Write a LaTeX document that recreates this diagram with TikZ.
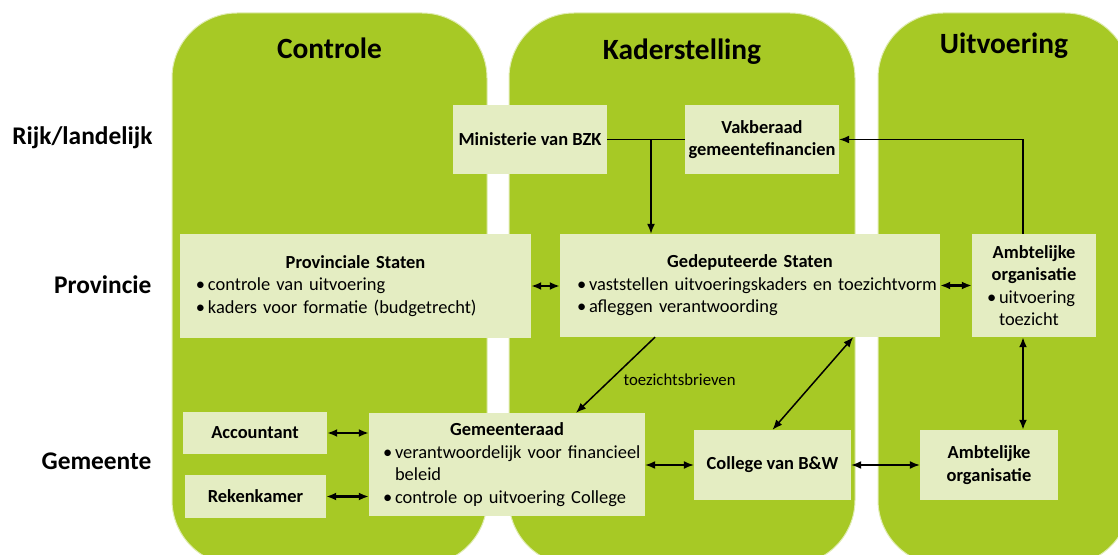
\documentclass[tikz,border=0pt]{standalone}
\usepackage{fontspec}
\setmainfont{Carlito}
\usetikzlibrary{arrows.meta}

\definecolor{kolomgroen}{RGB}{167,201,37}
\definecolor{vakgroen}{RGB}{228,237,194}
\newcommand{\bul}[2][16bp]{\par\leftskip=#1\relax\hangindent=12bp\hangafter=1\noindent\makebox[12bp][l]{\textbullet}#2}
\newcommand{\kopje}[1]{{\centering\textbf{#1}\par}}

\begin{document}
\begin{tikzpicture}[x=1bp, y=-1bp,
  kolom/.style={fill=kolomgroen, draw=white!65!kolomgroen, line width=1bp, rounded corners=65bp},
  kop/.style={anchor=base, font=\fontsize{29.5}{34}\selectfont\bfseries},
  laag/.style={anchor=base east, font=\fontsize{25.5}{30}\selectfont\bfseries},
  blok/.style={fill=vakgroen, inner sep=0pt, align=center, font=\fontsize{18.5}{22.5}\selectfont\bfseries},
  lijst/.style={fill=vakgroen, inner sep=0pt, align=left, font=\fontsize{18.5}{22.5}\selectfont},
  pijl/.style={line width=1.5bp, -{Latex[length=10bp,width=8bp]}},
  dpijl/.style={line width=1.5bp, {Latex[length=10bp,width=8bp]}-{Latex[length=10bp,width=8bp]}},
  dik/.style={line width=2.3bp}]
\useasboundingbox (0,0) rectangle (1118,555);
\clip (0,0) rectangle (1118,555);

% kolommen
\path[kolom] (172,13) rectangle (487,565);
\path[kolom] (509,13) rectangle (855,565);
\path[kolom] (878,13) rectangle (1130,565);
\node[kop] (controle) at (329.5,59) {Controle};
\node[kop] (kader) at (682,60) {Kaderstelling};
\node[kop] (uitvoering) at (1004,54) {Uitvoering};

% lagen
\node[laag] (rijk) at (156,145) {Rijk/landelijk};
\node[laag] (provincie) at (155,294) {Provincie};
\node[laag] (gemeente) at (155,469) {Gemeente};

% rijk
\node[blok, minimum width=154bp, minimum height=69bp] (bzk) at (530,139.5) {Ministerie van BZK};
\node[blok, minimum width=154bp, minimum height=69bp] (vak) at (762,139.5) {Vakberaad\\gemeentefinancien};

% provincie
\node[lijst, text width=351bp, minimum height=104bp] (ps) at (355.5,286) {%
  \kopje{Provinciale Staten}%
  \bul{controle van uitvoering}%
  \bul{kaders voor formatie (budgetrecht)}\par};
\node[lijst, text width=380bp, minimum height=103bp] (gs) at (750,285.5) {%
  \kopje{Gedeputeerde Staten}%
  \bul[17bp]{vaststellen uitvoeringskaders en toezichtvorm}%
  \bul[17bp]{afleggen verantwoording}\par};
\node[lijst, text width=124bp, minimum height=103bp] (ao1) at (1034,285.5) {%
  \kopje{Ambtelijke\\organisatie}%
  \bul[15bp]{uitvoering\newline toezicht}\par};

% gemeente
\node[blok, minimum width=144bp, minimum height=42bp] (acc) at (255,433) {Accountant};
\node[blok, minimum width=141bp, minimum height=43bp] (rek) at (255.5,496.5) {Rekenkamer};
\node[lijst, text width=276bp, minimum height=103bp] (gr) at (507,464.5) {%
  \kopje{Gemeenteraad}%
  \bul[14bp]{verantwoordelijk voor financieel\newline beleid}%
  \bul[14bp]{controle op uitvoering College}\par};
\node[blok, minimum width=157bp, minimum height=70bp] (bw) at (772.5,465) {College van B\&W};
\node[blok, minimum width=138bp, minimum height=70bp] (ao2) at (989,465) {Ambtelijke\\organisatie};

% verbindingen
\coordinate (knik) at (651,139.5);
\draw[line width=1.7bp] (bzk.east) -- (vak.west);
\draw[pijl] (knik) -- (knik |- gs.north);
\draw[pijl] ([xshift=-11bp]ao1.north) |- (vak.east);
\draw[dpijl, dik] (ps.east) -- (ps.east -| gs.west);
\draw[dpijl, dik] (gs.east) -- (gs.east -| ao1.west);
\draw[dpijl, dik] ([xshift=-11bp]ao1.south) -- ([xshift=-11bp]ao1.south |- ao2.north);
\draw[pijl] ([xshift=-95bp]gs.south) -- node[midway, anchor=west, xshift=4bp, yshift=-5bp, font=\fontsize{16.8}{20}\selectfont] (brieven) {toezichtsbrieven} ([xshift=69bp]gr.north);
\draw[dpijl] ([xshift=-87bp]gs.south east) -- (bw.north);
\draw[dpijl, dik] (acc.east) -- (acc.east -| gr.west);
\draw[dpijl, dik] (rek.east) -- (rek.east -| gr.west);
\draw[dpijl] (bw.west -| gr.east) -- (bw.west);
\draw[dpijl] (bw.east) -- (ao2.west);
\end{tikzpicture}
\end{document}
